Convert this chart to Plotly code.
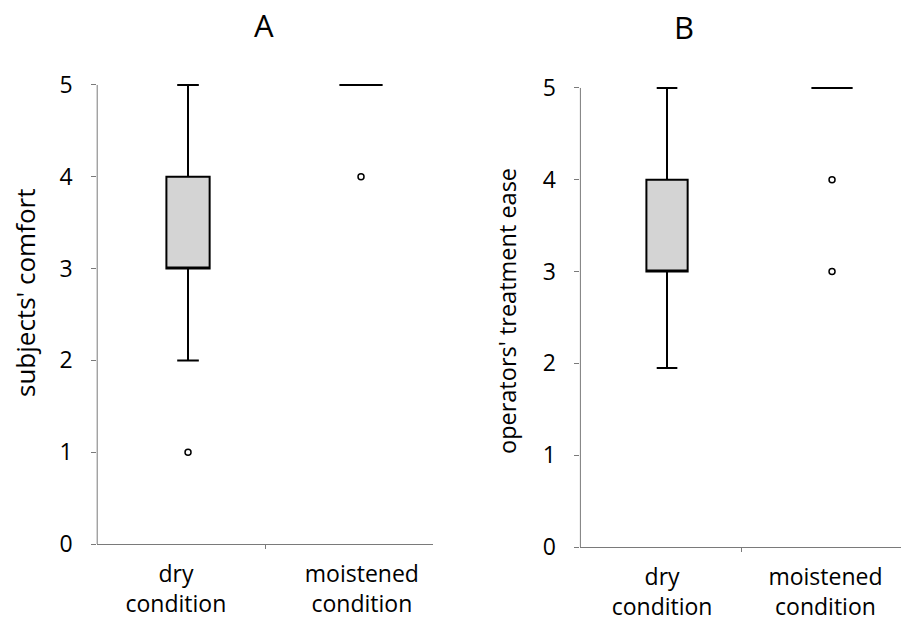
import plotly.graph_objects as go

# ---- data ----
categories = ["dry<br>condition", "moistened<br>condition"]
panel_titles = ["A", "B"]
y_titles = ["subjects' comfort", "operators' treatment ease"]

# panel A: subjects' comfort
a_q1 = [3, 5]
a_median = [3, 5]
a_q3 = [4, 5]
a_low = [2, 5]
a_high = [5, 5]
a_out_x = [0, 1]
a_out_y = [1, 4]

# panel B: operators' treatment ease
b_q1 = [3, 5]
b_median = [3, 5]
b_q3 = [4, 5]
b_low = [1.95, 5]
b_high = [5, 5]
b_out_x = [1, 1]
b_out_y = [4, 3]

y_ticks = [0, 1, 2, 3, 4, 5]
a_label_pos = [-0.07, 1.005]
b_label_pos = [-0.03, 0.96]
mid_tick = [0.45]

FONT = "Open Sans"
W, H = 902, 626

fig = go.Figure()

panels = [
    (a_q1, a_median, a_q3, a_low, a_high, a_out_x, a_out_y, "x", "y"),
    (b_q1, b_median, b_q3, b_low, b_high, b_out_x, b_out_y, "x2", "y2"),
]
for q1, med, q3, lo, hi, ox, oy, xa, ya in panels:
    fig.add_trace(go.Box(
        x=[0, 1], q1=q1, median=med, q3=q3, lowerfence=lo, upperfence=hi,
        width=0.25, whiskerwidth=0.5,
        fillcolor="#d4d4d4", line=dict(color="black", width=2),
        boxpoints=False, showlegend=False, hoverinfo="skip",
        xaxis=xa, yaxis=ya,
    ))
    fig.add_trace(go.Scatter(
        x=ox, y=oy, mode="markers",
        marker=dict(symbol="circle-open", size=6, color="black", line=dict(width=1.5)),
        showlegend=False, hoverinfo="skip", xaxis=xa, yaxis=ya,
    ))

axis_gray = "#7a7a7a"
xcommon = dict(range=[-0.525, 1.415], showgrid=False, zeroline=False,
               showline=True, linecolor=axis_gray, linewidth=1,
               ticks="", tickmode="array", ticktext=categories,
               tickfont=dict(family=FONT, size=23, color="black"),
               ticklabelstandoff=9, automargin=False,
               minor=dict(tickmode="array", tickvals=mid_tick, ticks="outside",
                          ticklen=4, tickcolor=axis_gray, tickwidth=1),
               fixedrange=True)
ycommon = dict(range=[0, 5.1], showgrid=False, zeroline=False, showline=False,
               ticks="outside", ticklen=5, tickcolor=axis_gray, tickwidth=1,
               tickmode="array", tickvals=y_ticks, automargin=False,
               tickfont=dict(family=FONT, size=23, color="black"),
               ticklabelstandoff=14, fixedrange=True)

fig.update_layout(
    template="none",
    width=W, height=H, margin=dict(l=0, r=0, t=0, b=0, autoexpand=False),
    paper_bgcolor="white", plot_bgcolor="white",
    xaxis=dict(domain=[97.2 / W, 432.8 / W], tickvals=a_label_pos, anchor="y", **xcommon),
    yaxis=dict(domain=[1 - 544 / H, 1 - 75.8 / H], anchor="x", **ycommon),
    xaxis2=dict(domain=[580.4 / W, 900.5 / W], tickvals=b_label_pos, anchor="y2", **xcommon),
    yaxis2=dict(domain=[1 - 547 / H, 1 - 78.8 / H], anchor="x2", **ycommon),
)

# vertical axis lines from 0 to 5
for xr, yr in [("x domain", "y"), ("x2 domain", "y2")]:
    fig.add_shape(type="line", xref=xr, yref=yr, x0=0, x1=0, y0=0, y1=5,
                  line=dict(color=axis_gray, width=1))

# panel titles and y titles
ann = dict(xref="paper", yref="paper", showarrow=False, xanchor="center", yanchor="middle")
fig.add_annotation(x=264 / W, y=1 - 24.5 / H, text=panel_titles[0],
                   font=dict(family=FONT, size=31, color="black"), **ann)
fig.add_annotation(x=684 / W, y=1 - 27 / H, text=panel_titles[1],
                   font=dict(family=FONT, size=31, color="black"), **ann)
fig.add_annotation(x=25 / W, y=1 - 293 / H, text=y_titles[0], textangle=-90,
                   font=dict(family=FONT, size=26, color="black"), **ann)
fig.add_annotation(x=507 / W, y=1 - 311 / H, text=y_titles[1], textangle=-90,
                   font=dict(family=FONT, size=23.5, color="black"), **ann)

fig.write_html("out.html")
